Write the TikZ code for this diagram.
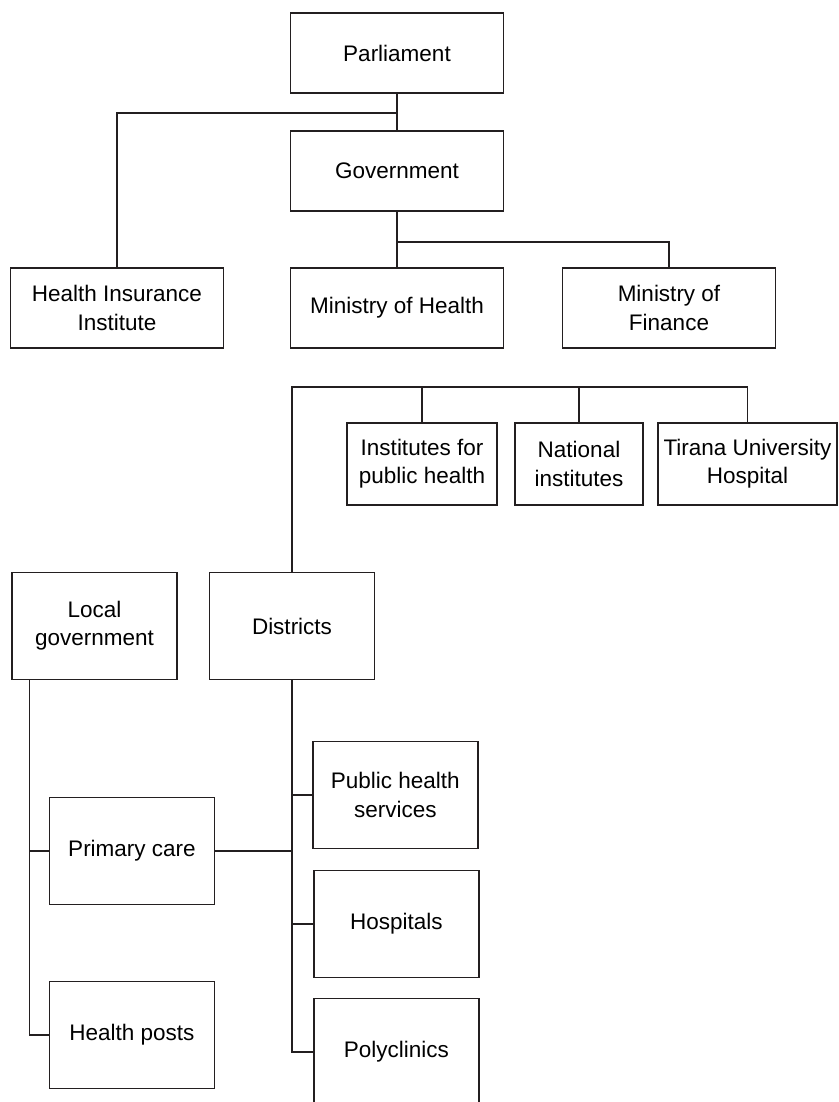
\documentclass[tikz,border=0pt]{standalone}
\usepackage{fontspec}
\setmainfont{Liberation Sans}
\usetikzlibrary{positioning}
\definecolor{mInk}{HTML}{231F20}

\begin{document}
\begin{tikzpicture}[x=0.025cm, y=-0.025cm,
    every node/.style={font=\fontsize{16}{20}\selectfont},
    bigbox/.style={draw=mInk, line width=1.1pt, minimum width=5.33cm, minimum height=2cm, align=center, inner sep=2pt},
    instbox/.style={draw=mInk, line width=1.1pt, minimum height=2.06cm, align=center, inner sep=2pt},
    unitbox/.style={draw=mInk, line width=1.1pt, minimum width=4.12cm, minimum height=2.67cm, align=center, inner sep=2pt},
    link/.style={draw=mInk, line width=0.9pt}]
    \useasboundingbox (0,0) rectangle (839,1102);

    % top levels
    \node[bigbox] (parl) at (397,53) {Parliament};
    \node[bigbox] (gov) at (397,171) {Government};
    \node[bigbox] (hii) at (117,308) {Health Insurance\\Institute};
    \node[bigbox] (moh) at (397,308) {Ministry of Health};
    \node[bigbox] (mof) at (669,308) {Ministry of\\Finance};
    \coordinate (parlJoin) at (397,113);
    \coordinate (govJoin) at (397,242);

    \draw[link] (parl) -- (gov);
    \draw[link] (hii) |- (parlJoin);
    \draw[link] (gov) -- (moh);
    \draw[link] (govJoin) -| (mof);

    % institutes and districts
    \node[instbox, minimum width=3.74cm] (iph) at (422,464) {Institutes for\\public health};
    \node[instbox, minimum width=3.21cm] (nat) at (579,464) {National\\institutes};
    \node[instbox, minimum width=4.48cm] (tuh) at (747.5,464) {Tirana University\\Hospital};
    \node[unitbox] (lgov) at (94.5,626) {Local\\government};
    \node[unitbox] (dist) at (292,626) {Districts};
    \coordinate (distJoin) at (292,387);
    \coordinate (lgovLine) at (29.4,679.4);

    \draw[link] (dist) |- (distJoin -| tuh) -- (tuh);
    \foreach \n in {iph, nat} {
      \draw[link] (\n) -- (\n |- distJoin);
    }

    % services
    \node[unitbox] (phs) at (395.3,795) {Public health\\services};
    \node[unitbox] (hosp) at (396.3,924) {Hospitals};
    \node[unitbox] (poly) at (396.3,1052) {Polyclinics};
    \node[unitbox] (pc) at (132,851) {Primary care};
    \node[unitbox] (hp) at (132,1035) {Health posts};

    \draw[link] (lgovLine) |- (hp);
    \draw[link] (pc) -- (pc -| lgovLine);
    \draw[link] (dist) |- (poly);
    \foreach \n in {phs, hosp, pc} {
      \draw[link] (\n) -- (\n -| dist);
    }
\end{tikzpicture}
\end{document}
